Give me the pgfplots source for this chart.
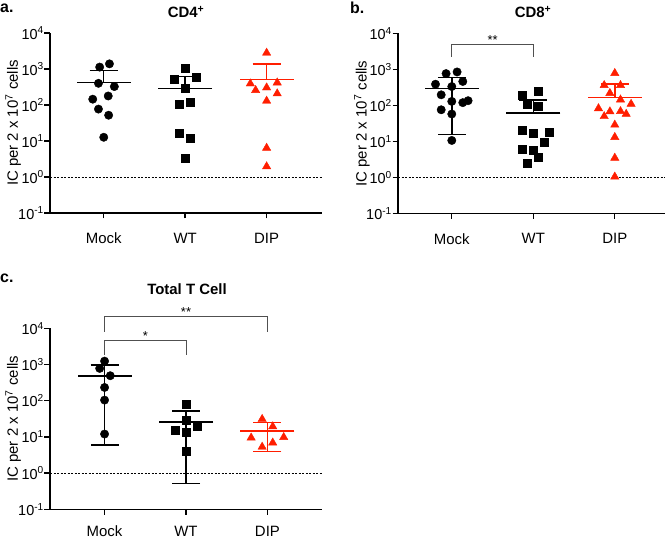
\documentclass[border=0pt]{standalone}
\usepackage{fontspec}
\setmainfont{Liberation Sans}
\usepackage{pgfplots}
\pgfplotsset{compat=1.18}

\definecolor{dipred}{RGB}{255,30,0}
\definecolor{brk}{RGB}{80,80,80}

\pgfplotsset{
  icaxis/.style={
    scale only axis, width=272bp, height=180bp,
    ymin=0.1, ymax=1e4,
    xmin=-0.66, xmax=2.68,
    axis x line=bottom, axis y line=left,
    axis line style={-, line width=1.4bp},
    xtick={0,1,2}, xticklabels={Mock,WT,DIP},
    ytick={0.1,1,10,100,1000,10000},
    yticklabels={10\textsuperscript{-1},10\textsuperscript{0},10\textsuperscript{1},10\textsuperscript{2},10\textsuperscript{3},10\textsuperscript{4}},
    yminorticks=false,
    tick align=outside, major tick length=5.5bp,
    tick style={black, line width=1.4bp},
    yticklabel style={font=\fontsize{14.5}{16}\selectfont, inner sep=0.5bp},
    xticklabel style={font=\fontsize{15}{17}\selectfont, yshift=-11bp},
    ylabel={IC per 2 x 10\textsuperscript{7} cells},
    ylabel style={font=\fontsize{15}{17}\selectfont, at={(axis description cs:-0.135,0.5)}, anchor=center},
    clip=false,
  },
  % mean as a wide dash, SD as error bar with cap
  sd/.style={only marks, mark=-, mark size=27bp, mark options={line width=1.6bp},
    error bars/y explicit, error bars/y dir=#1,
    error bars/error mark=|,
    error bars/error bar style={line width=1.5bp},
    error bars/error mark options={mark size=14bp, line width=1.5bp}},
  dotpts/.style={only marks, mark=*, mark size=4.2bp, black},
  sqpts/.style={only marks, mark=square*, mark size=4bp, black},
  tripts/.style={only marks, mark=triangle*, mark size=4.8bp, dipred},
  zeroline/.style={black, line width=0.8bp, dash pattern=on 2bp off 1.5bp},
  bracket/.style={brk, line width=1bp},
}

\begin{document}
\begin{tikzpicture}
\useasboundingbox (0,0) rectangle (671bp,539bp);

% ---------- a. CD4+
\begin{semilogyaxis}[icaxis, at={(50bp,326bp)}, anchor=south west]
  \addplot[zeroline] coordinates {(-0.66,1) (2.68,1)};
  \addplot[black, sd=plus] coordinates {(0,417) += (0,493)};
  \addplot[black, sd=plus] coordinates {(1,285) += (0,330)};
  \addplot[dipred, sd=plus] coordinates {(2,505) += (0,885)};
  \addplot[dotpts] coordinates {(-0.05,1130) (0.07,1390) (-0.065,400) (0.13,325) (-0.135,145) (0.055,178) (-0.065,77) (0.06,52) (0,12.7)};
  \addplot[sqpts] coordinates {(1,1020) (0.86,515) (1.135,575) (1,285) (0.93,103) (1.065,122) (0.93,16.7) (1.065,12) (1,3.3)};
  \addplot[tripts] coordinates {(2,2800) (1.8,392) (1.865,257) (2,304) (2.13,417) (2.13,208) (2,130) (2,6.4) (2,1.96)};
\end{semilogyaxis}

% ---------- b. CD8+
\begin{semilogyaxis}[icaxis, at={(398bp,325.5bp)}, anchor=south west, width=266.5bp, xmax=2.61]
  \addplot[zeroline] coordinates {(-0.66,1) (2.61,1)};
  \addplot[black, sd=both] coordinates {(0,297) += (0,303) -= (0,281.3)};
  \addplot[black, sd=plus] coordinates {(1,61) += (0,80)};
  \addplot[dipred, sd=plus] coordinates {(2,167) += (0,223)};
  \addplot[dotpts] coordinates {(-0.07,770) (0.065,855) (-0.2,390) (0.135,465) (0,336) (-0.13,198) (0,130) (0.135,120) (0.2,136) (-0.13,76) (0,58) (0,10.7)};
  \addplot[sqpts] coordinates {(0.87,195) (1.065,245) (0.93,110) (1.065,93) (0.86,20) (1,17.4) (1.2,17.8) (1.135,9.4) (0.86,6.0) (1,5.7) (1.065,3.6) (0.93,2.5)};
  \addplot[tripts] coordinates {(2,790) (1.87,365) (2.07,365) (1.94,220) (2.07,145) (2.2,110) (1.8,83) (1.94,68) (1.87,50) (2.07,69) (2.14,58) (2,29) (2,13.2) (2,3.5) (2,1.05)};
  \addplot[bracket] coordinates {(0,2240) (0,5000) (1,5000) (1,2240)};
  \node[anchor=base, font=\fontsize{13}{14}\selectfont] at (axis cs:0.5,5000) {**};
\end{semilogyaxis}

% ---------- c. Total T Cell
\begin{semilogyaxis}[icaxis, at={(50bp,29.7bp)}, anchor=south west, height=181bp, xmin=-0.67, xmax=2.67,
    xticklabel style={inner sep=1bp, yshift=1bp}]
  \addplot[zeroline] coordinates {(-0.67,1) (2.67,1)};
  \addplot[black, sd=both] coordinates {(0,480) += (0,480) -= (0,474.1)};
  \addplot[black, sd=both] coordinates {(1,26) += (0,25.6) -= (0,25.48)};
  \addplot[dipred, sd=both] coordinates {(2,14.7) += (0,10.3) -= (0,10.8)};
  \addplot[dotpts] coordinates {(0,1240) (-0.06,780) (0.07,490) (0,232) (0,104) (0,12)};
  \addplot[sqpts] coordinates {(1,79) (1,29) (0.865,15.4) (1,13.9) (1.135,20) (1,4.06)};
  \addplot[tripts] coordinates {(1.935,31) (2.065,19.4) (1.8,9.5) (2.2,9.8) (1.935,5.3) (2.065,6.9)};
  \addplot[bracket] coordinates {(0,7970) (0,20900) (2,20900) (2,7970)};
  \addplot[bracket] coordinates {(0,1820) (0,4700) (1,4700) (1,1820)};
  \node[anchor=base, font=\fontsize{13}{14}\selectfont] at (axis cs:1,20900) {**};
  \node[anchor=base, font=\fontsize{13}{14}\selectfont] at (axis cs:0.5,4700) {*};
\end{semilogyaxis}

% titles and panel letters
\node[font=\bfseries\fontsize{15}{18}\selectfont] at (186bp,527bp) {CD4\textsuperscript{+}};
\node[font=\bfseries\fontsize{15}{18}\selectfont] at (533bp,527bp) {CD8\textsuperscript{+}};
\node[font=\bfseries\fontsize{15}{18}\selectfont] at (187bp,250bp) {Total T Cell};
\node[anchor=west, inner sep=0pt, font=\bfseries\fontsize{16}{18}\selectfont] at (0bp,531bp) {a.};
\node[anchor=west, inner sep=0pt, font=\bfseries\fontsize{16}{18}\selectfont] at (350bp,531bp) {b.};
\node[anchor=west, inner sep=0pt, font=\bfseries\fontsize{16}{18}\selectfont] at (0bp,261bp) {c.};
\end{tikzpicture}
\end{document}
